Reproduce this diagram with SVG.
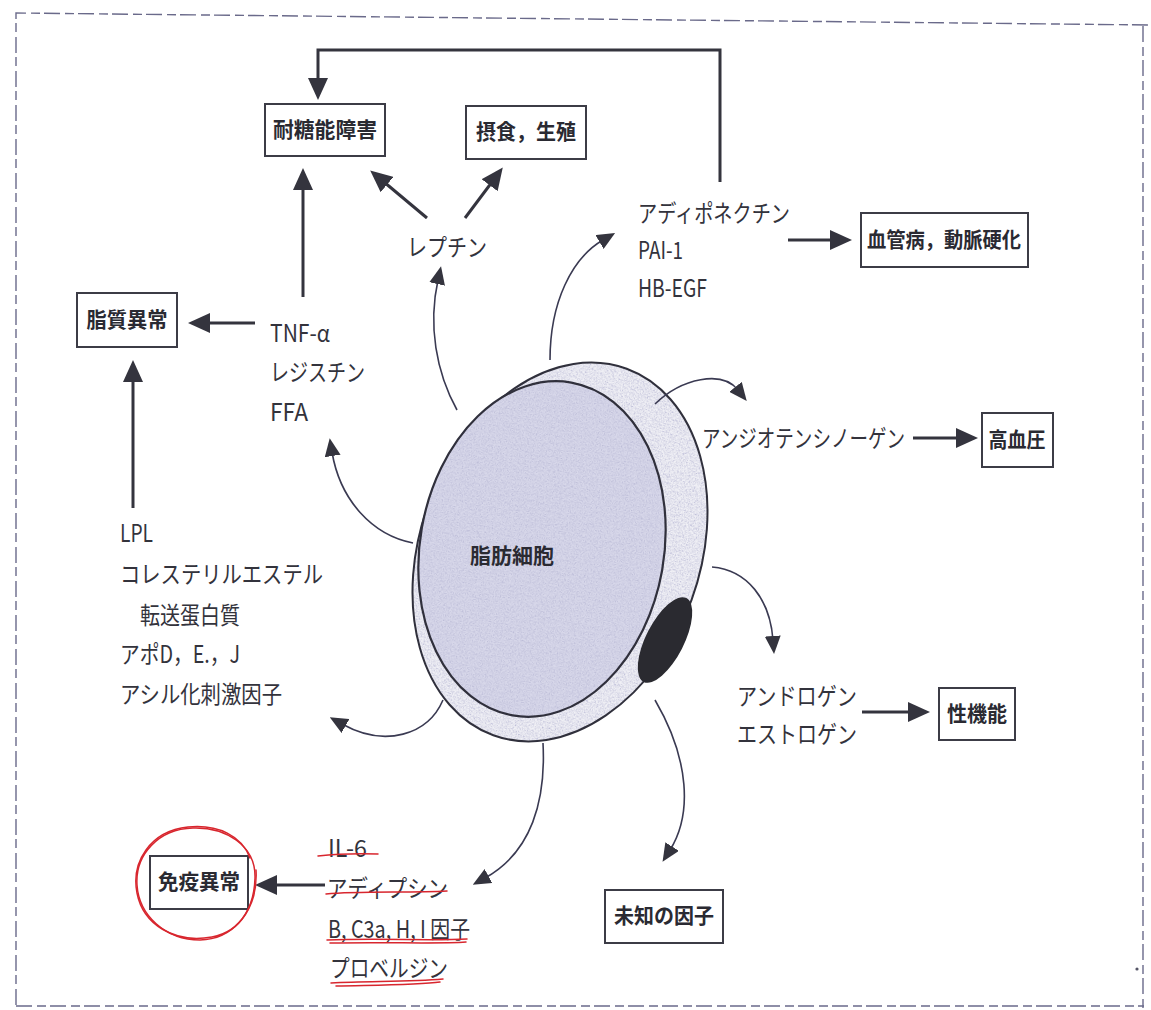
<svg xmlns="http://www.w3.org/2000/svg" width="1151" height="1010" viewBox="0 0 1151 1010">
  <style>
    .box { fill: #ffffff; stroke: #3c3c46; stroke-width: 2; }
    .bt { font-family: "Noto Sans CJK JP", "Liberation Sans", sans-serif; font-size: 21px; font-weight: bold; fill: #2a2a32; text-anchor: middle; }
    .lb { font-family: "Noto Sans CJK JP", "Liberation Sans", sans-serif; font-size: 24px; fill: #33333c; }
    .big { fill: none; stroke: #34343e; stroke-width: 3; marker-end: url(#headBig); }
    .cur { fill: none; stroke: #3a3a52; stroke-width: 1.6; marker-end: url(#headSmall); }
    .red { fill: none; stroke: #d8262e; stroke-width: 1.5; stroke-linecap: round; }
    .frame { fill: none; stroke: #6a6a8a; stroke-width: 1.4; stroke-dasharray: 16 5 9 4; }
  </style>
  <defs>
    <marker id="headBig" viewBox="0 0 22 20" refX="4" refY="10" markerWidth="22" markerHeight="20" markerUnits="userSpaceOnUse" orient="auto">
      <path d="M0,0 L22,10 L0,20 z" fill="#34343e"/>
    </marker>
    <marker id="headSmall" viewBox="0 0 18 16" refX="4" refY="8" markerWidth="18" markerHeight="16" markerUnits="userSpaceOnUse" orient="auto">
      <path d="M0,0 L18,8 L0,16 z" fill="#34343e"/>
    </marker>
    <filter id="grain" x="0" y="0" width="1" height="1">
      <feTurbulence type="fractalNoise" baseFrequency="0.85" numOctaves="2" seed="7" result="n"/>
      <feColorMatrix in="n" type="matrix" values="0 0 0 0 0.50  0 0 0 0 0.50  0 0 0 0 0.68  2.6 0 0 0 -1.05" result="dots"/>
      <feComposite in="dots" in2="SourceGraphic" operator="in" result="d2"/>
      <feMerge><feMergeNode in="SourceGraphic"/><feMergeNode in="d2"/></feMerge>
    </filter>
  </defs>

  <rect width="1151" height="1010" fill="#ffffff"/>

  <!-- page frame -->
  <g id="frame">
    <path class="frame" d="M16,1005 V13 L1151,25"/>
    <path class="frame" d="M16,1006 L1144,1006"/>
    <path class="frame" d="M1143,26 V1010" stroke-dasharray="22 10"/>
    <circle cx="1137" cy="969" r="1.6" fill="#555566"/>
  </g>

  <!-- adipocyte -->
  <g id="adipocyte">
    <ellipse cx="560" cy="552" rx="140" ry="195" transform="rotate(20 560 552)" fill="#f1f1f6" filter="url(#grain)"/>
    <ellipse cx="560" cy="552" rx="140" ry="195" transform="rotate(20 560 552)" fill="none" stroke="#30303c" stroke-width="2"/>
    <ellipse cx="542" cy="549" rx="122" ry="169" transform="rotate(10 542 549)" fill="#d8d8ea" filter="url(#grain)"/>
    <ellipse cx="542" cy="549" rx="122" ry="169" transform="rotate(10 542 549)" fill="none" stroke="#30303c" stroke-width="2.2"/>
    <ellipse cx="665" cy="640" rx="19" ry="47" transform="rotate(27 665 640)" fill="#2a2a30"/>
    <text class="bt" x="512" y="563" font-size="22">脂肪細胞</text>
  </g>

  <!-- connectors -->
  <g id="connectors">
    <path class="big" d="M720,182 V50 H318 V82"/>
    <path class="big" d="M427,218 L384,182"/>
    <path class="big" d="M465,218 L492,182"/>
    <path class="big" d="M303,297 V186"/>
    <path class="big" d="M255,323 H206"/>
    <path class="big" d="M133,508 V378"/>
    <path class="big" d="M788,240 H834"/>
    <path class="big" d="M913,438 H960"/>
    <path class="big" d="M862,712 H912"/>
    <path class="big" d="M325,885 H273"/>

    <path class="cur" d="M413,543 C372,535 340,500 332,452"/>
    <path class="cur" d="M457,410 C436,372 428,325 438,280"/>
    <path class="cur" d="M550,360 C550,302 572,258 603,240"/>
    <path class="cur" d="M655,404 C682,378 722,370 738,390"/>
    <path class="cur" d="M712,567 C748,570 770,600 773,640"/>
    <path class="cur" d="M655,700 C690,760 692,815 670,850"/>
    <path class="cur" d="M543,743 C546,800 532,852 485,878"/>
    <path class="cur" d="M443,700 C428,735 385,748 342,724"/>
  </g>

  <!-- outcome boxes -->
  <g id="n-igt"><rect class="box" x="265" y="104" width="120" height="52"/><text class="bt" x="325" y="137" textLength="104" lengthAdjust="spacingAndGlyphs">耐糖能障害</text></g>
  <g id="n-feeding"><rect class="box" x="466" y="106" width="120" height="53"/><text class="bt" x="526" y="139" textLength="100" lengthAdjust="spacingAndGlyphs">摂食，生殖</text></g>
  <g id="n-lipid"><rect class="box" x="77" y="293" width="100" height="54"/><text class="bt" x="127" y="327" textLength="81" lengthAdjust="spacingAndGlyphs">脂質異常</text></g>
  <g id="n-vascular"><rect class="box" x="861" y="213" width="167" height="54"/><text class="bt" x="944" y="247" textLength="154" lengthAdjust="spacingAndGlyphs">血管病，動脈硬化</text></g>
  <g id="n-htn"><rect class="box" x="982" y="413" width="71" height="54"/><text class="bt" x="1017" y="447" textLength="57" lengthAdjust="spacingAndGlyphs">高血圧</text></g>
  <g id="n-sex"><rect class="box" x="939" y="688" width="76" height="52"/><text class="bt" x="977" y="721" textLength="60" lengthAdjust="spacingAndGlyphs">性機能</text></g>
  <g id="n-unknown"><rect class="box" x="605" y="890" width="118" height="53"/><text class="bt" x="664" y="923" textLength="100" lengthAdjust="spacingAndGlyphs">未知の因子</text></g>
  <g id="n-immune"><rect class="box" x="150" y="856" width="98" height="53"/><text class="bt" x="199" y="889" textLength="82" lengthAdjust="spacingAndGlyphs">免疫異常</text></g>

  <!-- secreted factor labels -->
  <g id="n-leptin"><text class="lb" x="407" y="256" textLength="80" lengthAdjust="spacingAndGlyphs">レプチン</text></g>
  <g id="n-tnf">
    <text class="lb" x="270" y="342" textLength="60" lengthAdjust="spacingAndGlyphs">TNF-α</text>
    <text class="lb" x="270" y="381" textLength="95" lengthAdjust="spacingAndGlyphs">レジスチン</text>
    <text class="lb" x="270" y="421" textLength="38" lengthAdjust="spacingAndGlyphs">FFA</text>
  </g>
  <g id="n-adiponectin">
    <text class="lb" x="638" y="222" textLength="152" lengthAdjust="spacingAndGlyphs">アディポネクチン</text>
    <text class="lb" x="638" y="259" textLength="45" lengthAdjust="spacingAndGlyphs">PAI-1</text>
    <text class="lb" x="638" y="297" textLength="69" lengthAdjust="spacingAndGlyphs">HB-EGF</text>
  </g>
  <g id="n-angiotensinogen"><text class="lb" x="702" y="447" textLength="203" lengthAdjust="spacingAndGlyphs">アンジオテンシノーゲン</text></g>
  <g id="n-lpl">
    <text class="lb" x="120" y="542" textLength="33" lengthAdjust="spacingAndGlyphs">LPL</text>
    <text class="lb" x="120" y="583" textLength="203" lengthAdjust="spacingAndGlyphs">コレステリルエステル</text>
    <text class="lb" x="140" y="624" textLength="100" lengthAdjust="spacingAndGlyphs">転送蛋白質</text>
    <text class="lb" x="120" y="663" textLength="120" lengthAdjust="spacingAndGlyphs">アポD，E.，J</text>
    <text class="lb" x="120" y="703" textLength="162" lengthAdjust="spacingAndGlyphs">アシル化刺激因子</text>
  </g>
  <g id="n-androgen">
    <text class="lb" x="737" y="705" textLength="120" lengthAdjust="spacingAndGlyphs">アンドロゲン</text>
    <text class="lb" x="737" y="743" textLength="120" lengthAdjust="spacingAndGlyphs">エストロゲン</text>
  </g>
  <g id="n-il6">
    <text class="lb" x="328" y="857" textLength="39" lengthAdjust="spacingAndGlyphs">IL-6</text>
    <text class="lb" x="327" y="897" textLength="121" lengthAdjust="spacingAndGlyphs">アディプシン</text>
    <text class="lb" x="328" y="938" textLength="142" lengthAdjust="spacingAndGlyphs">B, C3a, H, I 因子</text>
    <text class="lb" x="330" y="977" textLength="118" lengthAdjust="spacingAndGlyphs">プロベルジン</text>
  </g>

  <!-- red pen marks -->
  <g id="pen-marks">
    <path class="red" d="M318,856 Q345,853 378,854"/>
    <path class="red" d="M326,894 C360,891 410,893 447,891"/>
    <path class="red" d="M327,940 C380,938 430,941 467,939"/>
    <path class="red" d="M330,943 C390,942 440,944 466,942"/>
    <path class="red" d="M331,983 C370,981 410,982 443,979"/>
    <path class="red" d="M336,986 C380,985 420,985 440,982"/>
    <path class="red" d="M255,878 C256,845 225,827 193,828 C158,829 135,855 137,885 C139,915 165,940 200,940 C232,939 254,915 255,878"/>
    <path class="red" d="M250,858 C242,836 218,824 188,827 C150,831 131,862 137,893 C143,924 174,944 212,937 C240,932 258,905 256,870"/>
  </g>
</svg>
